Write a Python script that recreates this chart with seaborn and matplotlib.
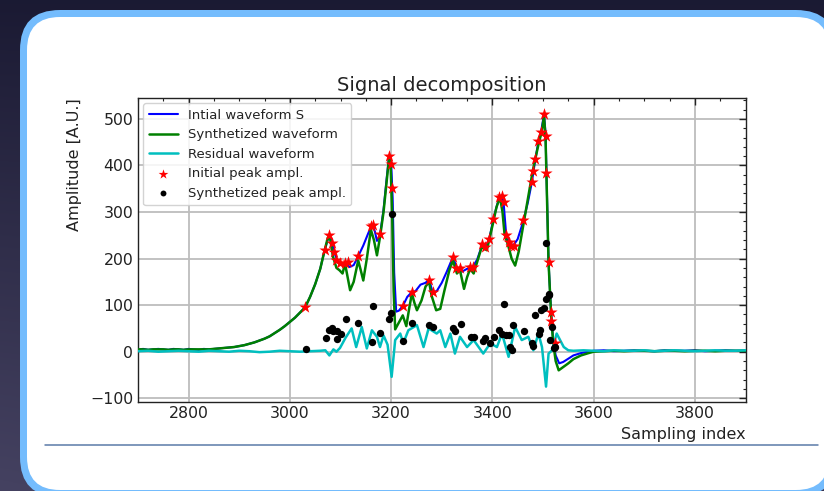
import numpy as np
import pandas as pd
import matplotlib
matplotlib.use("Agg")
import matplotlib.pyplot as plt
from matplotlib.patches import FancyBboxPatch
from matplotlib.ticker import AutoMinorLocator, MultipleLocator
import seaborn as sns

# ---- waveform samples -------------------------------------------------------
initial_x = [2700, 2710, 2720, 2730, 2740, 2750, 2760, 2770, 2780, 2790, 2800,
             2810, 2820, 2830, 2840, 2850, 2860, 2870, 2880, 2890, 2900, 2910,
             2920, 2930, 2940, 2950, 2960, 2970, 2980, 2990, 3000, 3010, 3020,
             3030, 3040, 3050, 3060, 3068, 3074, 3078, 3083, 3088, 3094, 3100,
             3110, 3118, 3126, 3135, 3145, 3155, 3163, 3168, 3172, 3178, 3185,
             3191, 3196, 3200, 3203, 3206, 3210, 3215, 3223, 3232, 3241, 3248,
             3258, 3268, 3275, 3282, 3290, 3300, 3310, 3322, 3330, 3340, 3350,
             3361, 3370, 3380, 3388, 3394, 3402, 3410, 3418, 3422, 3427, 3433,
             3442, 3450, 3461, 3470, 3478, 3485, 3491, 3496, 3502, 3505, 3508,
             3511, 3516, 3520, 3525, 3532, 3540, 3550, 3560, 3575, 3590, 3600,
             3620, 3640, 3660, 3680, 3700, 3720, 3740, 3760, 3780, 3800, 3820,
             3840, 3860, 3880, 3900]
initial_y = [4, 6, 4, 5, 6, 5, 4, 6, 5, 4, 6,
             5, 4, 6, 5, 6, 7, 8, 9, 10, 12, 14,
             17, 20, 24, 28, 33, 40, 47, 55, 64, 73, 84,
             95, 118, 145, 178, 215, 238, 250, 235, 212, 196, 190,
             188, 182, 186, 205, 228, 255, 272, 258, 238, 250, 305,
             370, 421, 408, 330, 170, 86, 88, 98, 118, 128, 130,
             144, 148, 155, 128, 130, 148, 172, 203, 180, 172, 178,
             182, 198, 230, 228, 243, 285, 318, 336, 322, 255, 232,
             229, 242, 280, 320, 364, 414, 452, 471, 510, 470, 330,
             192, 85, 25, -8, -25, -22, -15, -8, -3, 0, 2,
             3, 1, 2, 3, 2, 1, 3, 2, 2, 3, 1,
             2, 3, 2, 2]

synth_x = [2700, 2710, 2720, 2730, 2740, 2750, 2760, 2770, 2780, 2790, 2800,
           2810, 2820, 2830, 2840, 2850, 2860, 2870, 2880, 2890, 2900, 2910,
           2920, 2930, 2940, 2950, 2960, 2970, 2980, 2990, 3000, 3010, 3020,
           3030, 3040, 3050, 3060, 3068, 3075, 3080, 3085, 3092, 3098, 3104,
           3109, 3114, 3119, 3126, 3135, 3140, 3145, 3152, 3160, 3166, 3172,
           3178, 3185, 3191, 3196, 3199, 3202, 3205, 3208, 3214, 3223, 3230,
           3236, 3241, 3246, 3251, 3260, 3268, 3275, 3280, 3289, 3297, 3305,
           3315, 3322, 3330, 3336, 3344, 3350, 3356, 3363, 3372, 3379, 3389,
           3400, 3408, 3415, 3420, 3424, 3432, 3438, 3445, 3452, 3461, 3468,
           3474, 3480, 3486, 3492, 3497, 3502, 3505, 3508, 3511, 3516, 3520,
           3525, 3531, 3540, 3550, 3560, 3575, 3590, 3600, 3620, 3640, 3660,
           3680, 3700, 3720, 3740, 3760, 3780, 3800, 3820, 3840, 3860, 3880,
           3900]
synth_y = [5, 5, 4, 5, 5, 5, 4, 5, 5, 4, 5,
           5, 5, 5, 5, 6, 7, 8, 9, 10, 12, 14,
           17, 20, 24, 28, 33, 40, 47, 55, 64, 73, 84,
           95, 118, 145, 178, 215, 245, 240, 205, 180, 175, 168,
           189, 160, 132, 150, 196, 175, 153, 200, 262, 240, 207,
           246, 300, 365, 417, 400, 300, 130, 48, 60, 78, 55,
           95, 125, 105, 89, 110, 140, 150, 120, 89, 92, 130,
           175, 196, 168, 175, 135, 160, 178, 168, 200, 225, 218,
           270, 310, 332, 300, 253, 225, 200, 185, 215, 271, 315,
           353, 390, 420, 450, 470, 505, 460, 320, 190, 80, 20,
           -20, -40, -33, -25, -16, -8, -3, 0, 1, 2, 1,
           2, 2, 1, 2, 2, 1, 2, 2, 1, 2, 2,
           2]

resid_x = [2700, 2720, 2740, 2760, 2780, 2800, 2820, 2840, 2860, 2880, 2900,
           2920, 2940, 2960, 2980, 3000, 3020, 3040, 3060, 3070, 3078, 3086,
           3092, 3099, 3110, 3122, 3131, 3142, 3152, 3162, 3172, 3178, 3185,
           3193, 3201, 3208, 3218, 3224, 3234, 3251, 3264, 3274, 3290, 3297,
           3307, 3317, 3326, 3336, 3350, 3363, 3382, 3396, 3409, 3419, 3432,
           3445, 3458, 3471, 3481, 3491, 3498, 3506, 3511, 3518, 3527, 3541,
           3550, 3560, 3580, 3600, 3620, 3640, 3660, 3680, 3700, 3720, 3740,
           3760, 3780, 3800, 3820, 3840, 3860, 3880, 3900]
resid_y = [1, 2, 0, 1, 2, 1, 0, 2, 1, 0, 2,
           1, -1, 0, 2, 1, 0, 1, 2, 3, -8, 5,
           0, 8, 30, 50, 10, 53, 7, 46, 32, 10, 35,
           15, -54, 25, 39, 18, 46, 57, 10, 50, 39, 46,
           10, 39, -4, 32, 10, 25, -4, 18, 10, 39, -11,
           53, 25, 32, 3, 39, 10, -75, -4, 3, 39, 10,
           3, 2, 3, 2, 1, 3, 2, 2, 3, 1, 2,
           3, 2, 1, 2, 3, 2, 2, 3]

# ---- detected peaks ---------------------------------------------------------
init_peak_x = [3030, 3070, 3078, 3083, 3087, 3091, 3099, 3109, 3114, 3135,
               3160, 3164, 3178, 3196, 3200, 3202, 3223, 3241, 3275, 3282,
               3322, 3328, 3336, 3355, 3361, 3379, 3386, 3394, 3402, 3414,
               3419, 3422, 3427, 3432, 3437, 3442, 3461, 3478, 3480, 3485,
               3491, 3496, 3502, 3506, 3506, 3511, 3516, 3516, 3524]
init_peak_y = [95, 219, 250, 233, 214, 198, 191, 191, 192, 205,
               269, 272, 253, 421, 403, 352, 98, 128, 155, 128,
               203, 180, 180, 182, 182, 232, 225, 243, 285, 332,
               335, 321, 250, 235, 228, 228, 282, 364, 389, 414,
               452, 471, 510, 464, 383, 192, 85, 67, 18]

synth_peak_x = [3032, 3072, 3078, 3083, 3086, 3094, 3094, 3101, 3111, 3135,
                3162, 3164, 3178, 3196, 3200, 3202, 3224, 3242, 3275, 3282,
                3322, 3326, 3338, 3357, 3363, 3381, 3386, 3396, 3404, 3414,
                3419, 3422, 3427, 3432, 3435, 3439, 3440, 3463, 3478, 3481,
                3485, 3492, 3494, 3496, 3501, 3506, 3506, 3511, 3512, 3514,
                3518, 3521, 3524]
synth_peak_y = [5, 30, 46, 51, 44, 44, 28, 37, 71, 62,
                21, 98, 40, 71, 83, 296, 22, 62, 57, 53,
                50, 45, 60, 32, 32, 23, 30, 19, 32, 46,
                39, 103, 35, 35, 10, 3, 57, 44, 18, 12,
                78, 39, 46, 90, 93, 234, 114, 121, 125, 25,
                53, 7, 10]

W, H = 824, 491

sns.set_style("white")
plt.rcParams["font.family"] = ["DejaVu Sans"]
plt.rcParams["text.color"] = "#222222"
plt.rcParams["axes.labelcolor"] = "#222222"
plt.rcParams["xtick.color"] = "#222222"
plt.rcParams["ytick.color"] = "#222222"

fig = plt.figure(figsize=(W / 100, H / 100), dpi=100)

# ---- slide backdrop: dark gradient and rounded white card ------------------
bg = fig.add_axes([0, 0, 1, 1])
bg.set_xlim(0, W)
bg.set_ylim(H, 0)
bg.axis("off")
gy, gx = np.mgrid[0:1:200j, 0:1:200j]
shade = np.clip(0.65 * gy + 0.35 * gy * (1 - gx), 0, 1)
top_col = np.array([0.105, 0.102, 0.200])
bot_col = np.array([0.270, 0.258, 0.380])
grad = top_col[None, None, :] * (1 - shade[..., None]) + bot_col[None, None, :] * shade[..., None]
bg.imshow(grad, extent=[0, W, H, 0], aspect="auto", zorder=0)

outer = FancyBboxPatch((20, 10), 816, 487, boxstyle="round,pad=0,rounding_size=40",
                       facecolor="#74bcfd", edgecolor="none", zorder=1)
inner = FancyBboxPatch((27, 17), 802, 473, boxstyle="round,pad=0,rounding_size=33",
                       facecolor="white", edgecolor="none", zorder=2)
bg.add_patch(outer)
bg.add_patch(inner)
bg.plot([45, 818], [445, 445], color="#5b7ba8", lw=1.1, zorder=3)

# ---- chart ------------------------------------------------------------------
ax = fig.add_axes([138 / W, 1 - 401.5 / H, (745.5 - 138) / W, (401.5 - 98) / H])
ax.set_facecolor("white")

df_init = pd.DataFrame({"x": initial_x, "y": initial_y})
df_syn = pd.DataFrame({"x": synth_x, "y": synth_y})
df_res = pd.DataFrame({"x": resid_x, "y": resid_y})
df_ip = pd.DataFrame({"x": init_peak_x, "y": init_peak_y})
df_sp = pd.DataFrame({"x": synth_peak_x, "y": synth_peak_y})

sns.lineplot(data=df_init, x="x", y="y", ax=ax, color="#0000ff", lw=1.5,
             estimator=None, sort=False, label="Intial waveform S", zorder=3)
sns.lineplot(data=df_syn, x="x", y="y", ax=ax, color="#008000", lw=1.8,
             estimator=None, sort=False, label="Synthetized waveform", zorder=4)
sns.lineplot(data=df_res, x="x", y="y", ax=ax, color="#00bfbf", lw=1.8,
             estimator=None, sort=False, label="Residual waveform", zorder=4)
sns.scatterplot(data=df_ip, x="x", y="y", ax=ax, color="red", marker="*", s=85,
                linewidth=0, label="Initial peak ampl.", zorder=5)
sns.scatterplot(data=df_sp, x="x", y="y", ax=ax, color="black", marker="o", s=28,
                linewidth=0, label="Synthetized peak ampl.", zorder=5)

ax.set_xlim(2700, 3900)
ax.set_ylim(-107, 545)
ax.xaxis.set_major_locator(MultipleLocator(200))
ax.xaxis.set_minor_locator(AutoMinorLocator(4))
ax.yaxis.set_major_locator(MultipleLocator(100))
ax.yaxis.set_minor_locator(AutoMinorLocator(5))
ax.tick_params(which="both", direction="in", top=True, right=True, labelsize=11.3)
ax.tick_params(which="major", length=5, width=1)
ax.tick_params(which="minor", length=2.5, width=0.8)
ax.grid(True, which="major", color="#bdbdbd", lw=1.3)
for sp in ax.spines.values():
    sp.set_color("#222222")
    sp.set_linewidth(1.0)

ax.set_title("Signal decomposition", fontsize=14, pad=5)
ax.set_xlabel("Sampling index", fontsize=11.5, loc="right")
ax.set_ylabel("Amplitude [A.U.]", fontsize=11.5, loc="top", labelpad=6)

leg = ax.legend(loc="upper left", fontsize=9.5, frameon=True, fancybox=True,
                framealpha=0.85, edgecolor="#cccccc", borderaxespad=0.4,
                handlelength=2.2, labelspacing=0.5, markerscale=0.8)

fig.savefig("out.png", dpi=100)
